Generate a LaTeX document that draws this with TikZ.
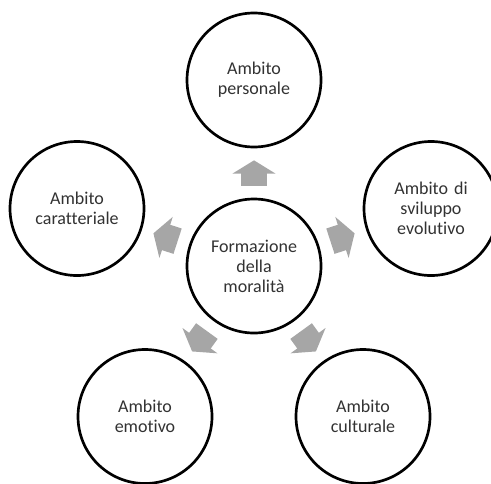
\documentclass[tikz,border=0pt]{standalone}
\usepackage{fontspec}
\setmainfont{Carlito}[Ligatures={NoCommon}]
\usepackage{tikz}
\usetikzlibrary{
  positioning,
  arrows.meta,
  calc
}
\definecolor{ringborder}{RGB}{0,0,0}
\definecolor{textcolor}{RGB}{50,50,50}
\definecolor{arrowgray}{RGB}{166,166,166}
\tikzset{
  ambitonode/.style={
    circle, draw=ringborder, fill=white, line width=2pt,
    minimum size=100.5pt, inner sep=0pt,
    font=\fontsize{13.5}{15}\selectfont, text=textcolor,
    align=center, text width=80pt
  },
  blockarrow/.style={
    draw=arrowgray, line width=20pt,
    -{Triangle[length=10pt, width=32pt]},
    shorten <=9pt, shorten >=9pt
  }
}
\begin{document}
\begin{tikzpicture}[x=0.75pt, y=0.75pt]
    \useasboundingbox (0,0) rectangle (491,483);

    % Centre
    \node[ambitonode] (mor) at (254,217) {Formazione\\della\\moralità};

    % Outer ring
    \node[ambitonode] (pers) at (254,403) {Ambito\\personale};
    \node[ambitonode] (svil) at (431,274.5) {Ambito di\\sviluppo\\evolutivo};
    \node[ambitonode] (cult) at (363,66.5) {Ambito\\culturale};
    \node[ambitonode] (emot) at (145,66.5) {Ambito\\emotivo};
    \node[ambitonode] (cara) at (77,274.5) {Ambito\\caratteriale};

    % Arrows: centre -> outer
    \draw[blockarrow] (mor) -- (pers);
    \draw[blockarrow] (mor) -- (svil);
    \draw[blockarrow] (mor) -- (cult);
    \draw[blockarrow] (mor) -- (emot);
    \draw[blockarrow] (mor) -- (cara);

\end{tikzpicture}
\end{document}
